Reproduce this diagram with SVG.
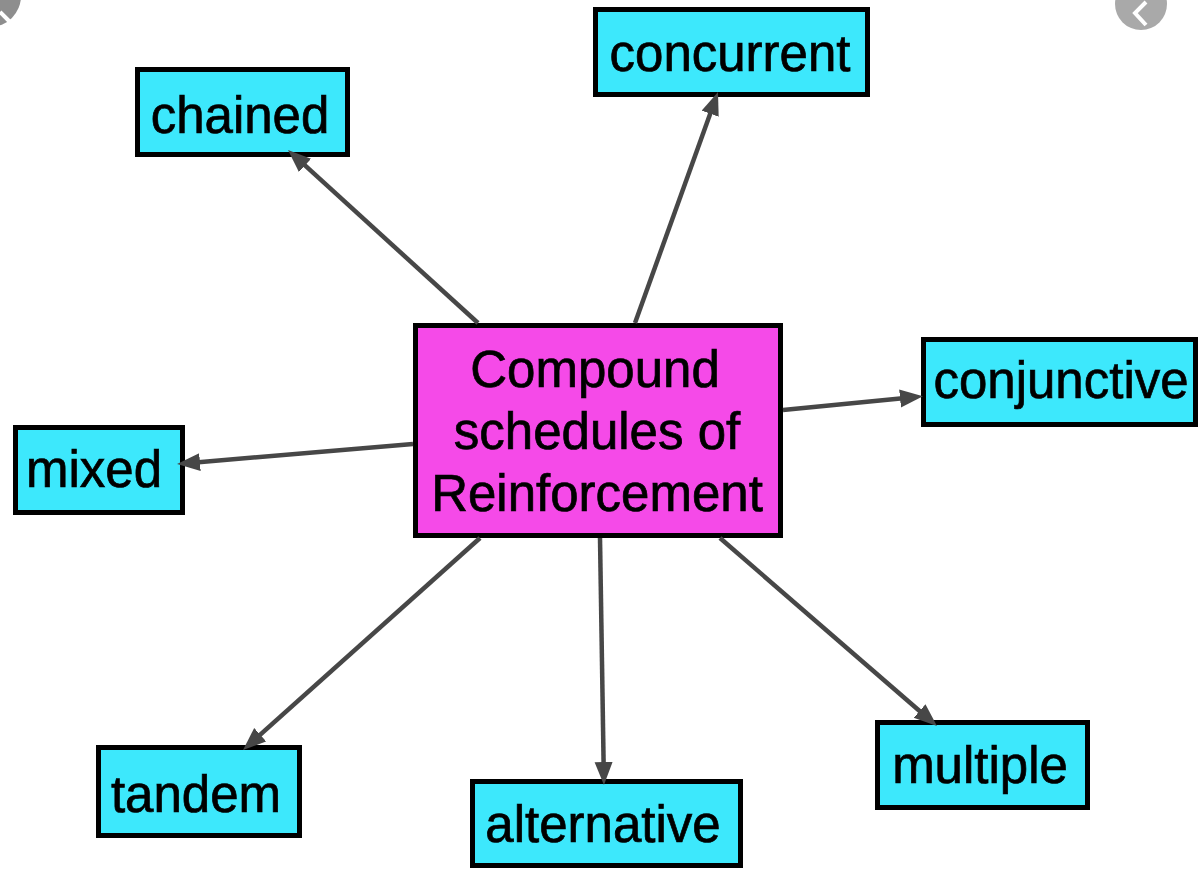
<svg xmlns="http://www.w3.org/2000/svg" width="1199" height="870" viewBox="0 0 1199 870">
<style>
.leaf{fill:#3de8fc;stroke:#000;stroke-width:5}
.hub{fill:#f54ae8;stroke:#000;stroke-width:5}
.lbl{font-family:"Liberation Sans",Arial,sans-serif;font-size:51px;fill:#000;stroke:#000;stroke-width:0.7;text-anchor:middle}
.edge{stroke:#474747;stroke-width:4.5;fill:none;marker-end:url(#ah)}
</style>
<defs>
<marker id="ah" markerUnits="userSpaceOnUse" markerWidth="24" markerHeight="20" refX="13" refY="9" orient="auto">
<path d="M0,0 L23,9 L0,18 z" fill="#474747"/>
</marker>
</defs>
<rect width="1199" height="870" fill="#fff"/>
<g id="ui">
<circle cx="-10" cy="-4" r="31" fill="#8e8e8e"/>
<path d="M0,12 L10,22" stroke="#fff" stroke-width="4"/>
<circle cx="1141" cy="4" r="26" fill="#a9a9a9"/>
<path d="M1146,2 L1135,13 L1146,25" stroke="#fff" stroke-width="4" fill="none"/>
</g>
<g id="node-center"><rect class="hub" x="415.5" y="325.5" width="365" height="210"/>
<text class="lbl" x="595" y="387">Compound</text>
<text class="lbl" x="597" y="449">schedules of</text>
<text class="lbl" x="597" y="511">Reinforcement</text></g>
<g id="node-chained"><rect class="leaf" x="137.5" y="69.5" width="210" height="85"/><text class="lbl" x="240" y="133">chained</text></g>
<g id="node-concurrent"><rect class="leaf" x="595.5" y="9.5" width="272" height="85"/><text class="lbl" x="730" y="71">concurrent</text></g>
<g id="node-conjunctive"><rect class="leaf" x="923.5" y="339.5" width="272" height="85"/><text class="lbl" x="1061" y="398">conjunctive</text></g>
<g id="node-mixed"><rect class="leaf" x="15.5" y="427.5" width="167" height="85"/><text class="lbl" x="94" y="487">mixed</text></g>
<g id="node-tandem"><rect class="leaf" x="98.5" y="747.5" width="201" height="88"/><text class="lbl" x="196" y="812">tandem</text></g>
<g id="node-alternative"><rect class="leaf" x="472.5" y="781.5" width="268" height="84"/><text class="lbl" x="603" y="842">alternative</text></g>
<g id="node-multiple"><rect class="leaf" x="877.5" y="722.5" width="210" height="85"/><text class="lbl" x="980" y="783">multiple</text></g>
<g id="connectors">
<line class="edge" x1="478" y1="323" x2="295.4" y2="156.7"/>
<line class="edge" x1="635" y1="323" x2="714.6" y2="101.4"/>
<line class="edge" x1="783" y1="410" x2="913" y2="397.2"/>
<line class="edge" x1="413" y1="444" x2="187" y2="463.2"/>
<line class="edge" x1="480" y1="538" x2="250.5" y2="743.3"/>
<line class="edge" x1="600" y1="538" x2="603.8" y2="775"/>
<line class="edge" x1="720" y1="538" x2="929.4" y2="719.5"/>
</g>
</svg>
